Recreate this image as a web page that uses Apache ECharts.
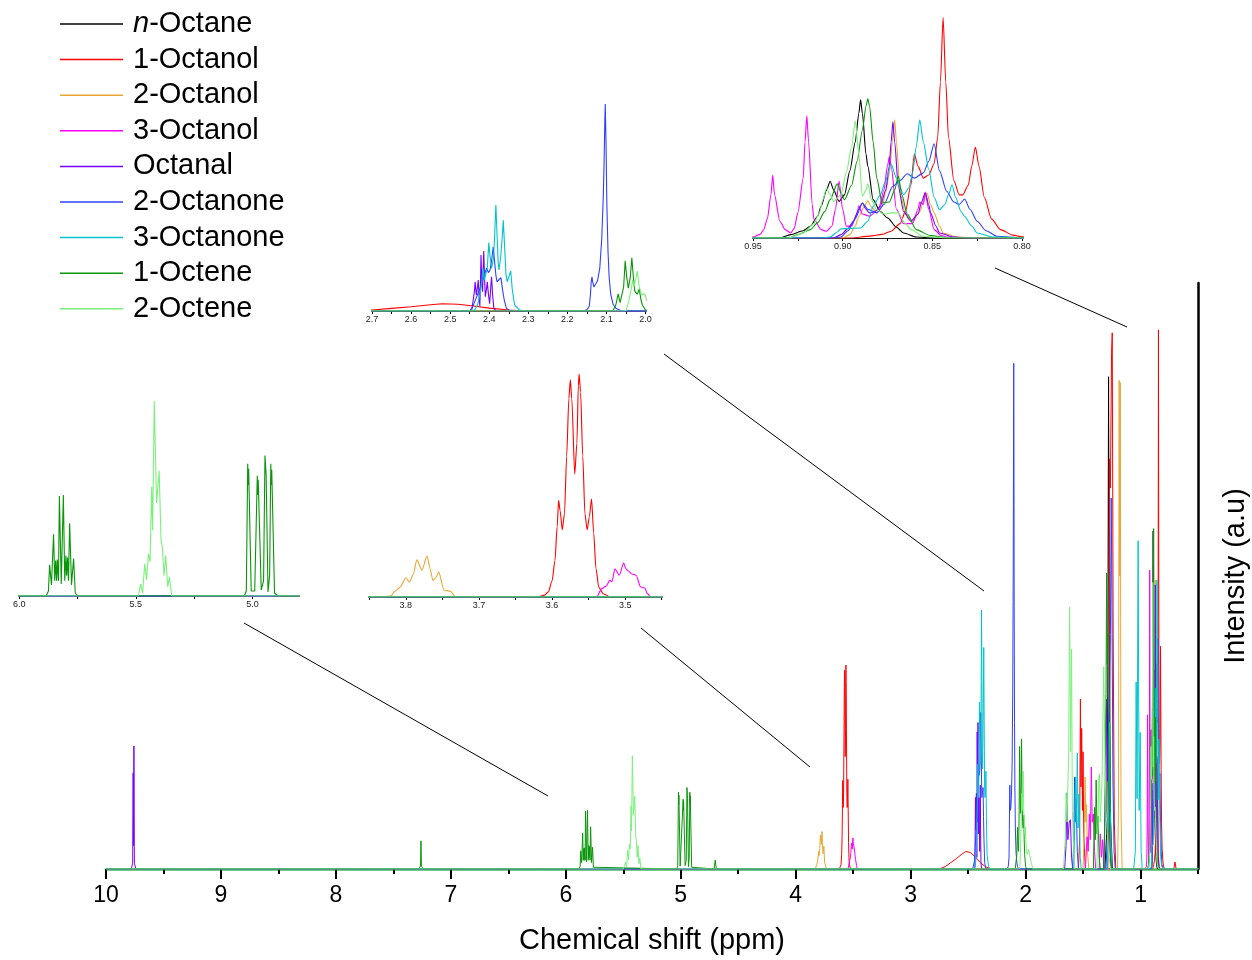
<!DOCTYPE html>
<html>
<head>
<meta charset="utf-8">
<title>1H NMR spectra of C8 compounds</title>
<script src="https://cdn.jsdelivr.net/npm/echarts@6/dist/echarts.min.js"></script>
<style>
  html, body { margin: 0; padding: 0; background: #fff; }
  #chart { width: 1252px; height: 960px; }
</style>
</head>
<body>
<div id="chart"></div>
<script>
// each spectrum: [chemical shift (ppm), intensity (a.u.)]
const nOctane = [
  [10,0],[1.31,0],[1.295,6],[1.285,30],[1.278,84],[1.272,40],[1.26,8],[1.245,0],
  [0.935,0],[0.929,1.4],[0.922,3],[0.918,4.9],[0.914,9],[0.912,13.2],[0.909,20],[0.907,23.7],[0.905,20],[0.902,15.3],[0.899,18],[0.896,28],[0.893,40],[0.891,52],[0.890,57.7],[0.889,52],[0.887,35],[0.886,30],[0.883,16],[0.879,11],[0.875,8.4],[0.870,4.5],[0.866,2.1],[0.859,0.4],[0.85,0],[0.5,0]
];
const octanol1 = [
  [10,0],
  [3.62,0],[3.61,0.3],[3.605,0.8],[3.600,2.5],[3.596,5.7],[3.593,11],[3.591,15.1],[3.589,13.5],[3.586,10.5],[3.583,13],[3.580,22],[3.577,31],[3.575,33.9],[3.573,31],[3.569,19.2],[3.566,24],[3.564,33],[3.563,34.8],[3.561,32],[3.558,22],[3.555,13],[3.552,10.5],[3.549,12.5],[3.546,15.3],[3.543,10],[3.540,4.5],[3.536,1.5],[3.530,0.5],[3.52,0],
  [2.75,0],[2.70,0.4],[2.65,1.1],[2.60,1.8],[2.55,2.6],[2.52,3.0],[2.48,2.8],[2.44,2.1],[2.40,1.2],[2.35,0.4],[2.30,0],
  [1.54,0],[1.53,5],[1.523,29],[1.518,14],[1.512,24],[1.505,10],[1.50,20],[1.494,6],[1.48,0],
  [1.285,0],[1.275,10],[1.27,70],[1.262,65],[1.252,88],[1.246,91.5],[1.238,40],[1.228,8],[1.215,0],
  [0.895,0],[0.885,0.8],[0.878,1.5],[0.873,2.8],[0.868,6],[0.865,11],[0.862,22],[0.860,35],[0.858,30],[0.855,25],[0.852,26.3],[0.849,31],[0.847,42],[0.8455,65],[0.844,92],[0.8425,65],[0.841,42],[0.838,24],[0.835,18],[0.833,18],[0.830,22],[0.828,30],[0.826,38],[0.824,30],[0.821,17],[0.817,8],[0.812,3.5],[0.805,1.2],[0.80,0.5],[0.79,0],
  [0.71,0],[0.70,1.2],[0.69,0],[0.5,0]
];
const octanol2 = [
  [10,0],
  [3.83,0],[3.82,0.2],[3.816,0.8],[3.808,1.5],[3.80,3.0],[3.795,2.3],[3.790,3.5],[3.785,5.8],[3.778,4.2],[3.771,6.4],[3.767,4.5],[3.763,2.6],[3.759,3],[3.755,3.9],[3.748,1.1],[3.739,0.9],[3.732,0],
  [1.50,0],[1.49,6],[1.482,15.7],[1.476,8],[1.47,11],[1.462,3],[1.45,0],
  [1.20,0],[1.192,10],[1.186,83.4],[1.181,50],[1.176,83],[1.170,10],[1.16,0],
  [0.90,0],[0.896,1.4],[0.893,5],[0.891,9],[0.888,13],[0.886,15.5],[0.884,13],[0.881,10.5],[0.878,13],[0.876,19],[0.874,27],[0.872,42],[0.871,49.3],[0.870,40],[0.868,18.8],[0.865,10],[0.861,7],[0.857,11],[0.855,15],[0.853,18.8],[0.851,14],[0.849,10.5],[0.846,5],[0.844,2.1],[0.836,0.4],[0.825,0],[0.5,0]
];
const octanol3 = [
  [10,0],
  [3.545,0],[3.539,0],[3.532,1.3],[3.526,1.7],[3.521,2.6],[3.518,2.4],[3.514,4.4],[3.508,3.4],[3.502,5.3],[3.499,4.4],[3.496,4.1],[3.491,3.6],[3.485,3.4],[3.479,1.6],[3.473,1.4],[3.470,0.6],[3.465,0],
  [1.48,0],[1.465,5.5],[1.455,3],[1.445,9.4],[1.437,5],[1.428,17.4],[1.42,8],[1.41,9.4],[1.40,3],[1.39,0],
  [1.36,0],[1.35,6],[1.34,2],[1.33,5],[1.32,0],
  [0.96,0],[0.95,0.4],[0.946,1.5],[0.944,3.5],[0.942,8],[0.940,18],[0.939,26.3],[0.938,18],[0.935,7],[0.932,3.5],[0.929,2.1],[0.927,4],[0.925,10.5],[0.922,25],[0.921,40],[0.920,51],[0.919,40],[0.917,14],[0.916,7.7],[0.912,3.5],[0.909,2.8],[0.906,5],[0.904,12],[0.902,23.8],[0.900,12],[0.898,4.9],[0.895,5],[0.892,10],[0.891,13.4],[0.889,10],[0.885,9.1],[0.880,12],[0.877,20],[0.875,30],[0.874,33.9],[0.873,30],[0.870,12],[0.866,6],[0.861,6],[0.858,12],[0.857,15],[0.855,14],[0.854,19.2],[0.852,12],[0.849,3.5],[0.845,1],[0.842,0.4],[0.83,0],[0.5,0]
];
const octanal = [
  [10,0],[9.78,0],[9.768,1],[9.764,16.4],[9.761,4],[9.757,21],[9.753,1],[9.74,0],
  [2.445,0],[2.441,0.5],[2.438,8],[2.436,12.2],[2.433,6.7],[2.430,10],[2.428,12.9],[2.426,6],[2.424,2],[2.422,15],[2.421,23.4],[2.419,12],[2.417,8],[2.415,20],[2.414,25],[2.412,14],[2.410,6],[2.407,9],[2.405,12.2],[2.402,7],[2.399,3],[2.396,10],[2.394,14.3],[2.391,6],[2.388,1],[2.382,0],
  [1.66,0],[1.648,4],[1.64,13],[1.632,5],[1.62,8],[1.61,8.4],[1.60,2],[1.59,0],
  [1.32,0],[1.31,8],[1.30,20],[1.295,29],[1.288,15],[1.28,26.4],[1.27,8],[1.26,0],
  [0.905,0],[0.901,1.4],[0.897,4],[0.894,7],[0.891,12],[0.889,14.6],[0.887,12],[0.885,10.5],[0.882,11],[0.879,13.2],[0.876,20],[0.874,30],[0.873,40],[0.872,48.5],[0.871,40],[0.869,21.6],[0.866,11],[0.862,7],[0.858,10],[0.856,15],[0.854,18.8],[0.852,14],[0.851,10.5],[0.848,5],[0.846,2.1],[0.838,0.4],[0.83,0],[0.5,0]
];
const octanone2 = [
  [10,0],
  [2.46,0],[2.450,0],[2.443,1.5],[2.437,3.9],[2.432,6],[2.427,8.1],[2.420,11],[2.414,14],[2.407,17.9],[2.402,16],[2.398,17],[2.393,22],[2.390,26.7],[2.387,22],[2.383,15],[2.380,12.2],[2.375,12],[2.370,13.9],[2.366,9],[2.362,5],[2.356,1.1],[2.345,0],
  [2.16,0],[2.150,0.5],[2.144,2],[2.141,6.7],[2.139,12],[2.137,14.3],[2.135,12],[2.132,10],[2.128,10.5],[2.123,12.5],[2.117,17.9],[2.112,30],[2.108,48],[2.106,62],[2.104,80],[2.103,86.3],[2.101,70],[2.099,45],[2.096,25],[2.093,14],[2.089,7],[2.083,2.8],[2.075,1],[2.07,0.4],[2.06,0],
  [1.59,0],[1.58,5],[1.574,15.7],[1.567,8],[1.56,12],[1.55,3],[1.54,0],
  [1.30,0],[1.28,10],[1.27,25],[1.262,40],[1.255,63.3],[1.25,50],[1.24,15],[1.23,3],[1.22,0],
  [0.905,0],[0.901,0.4],[0.897,3],[0.893,8],[0.889,14.6],[0.886,12],[0.881,10.5],[0.877,14],[0.872,21.6],[0.868,24],[0.864,26.8],[0.860,25],[0.855,27.2],[0.852,32],[0.849,39.3],[0.846,28],[0.842,19.5],[0.838,15],[0.835,14],[0.832,16.3],[0.829,12],[0.825,7],[0.820,3],[0.814,0.7],[0.80,0],[0.5,0]
];
const octanone3 = [
  [10,0],
  [2.445,0],[2.437,0.5],[2.430,2.5],[2.424,6.7],[2.419,12],[2.416,17.9],[2.412,13],[2.409,12.2],[2.405,18],[2.401,28.5],[2.398,23],[2.394,17.8],[2.389,22],[2.386,32],[2.383,44.2],[2.380,32],[2.377,20],[2.375,17.1],[2.371,22],[2.367,30],[2.364,37.8],[2.361,28],[2.357,15],[2.354,12.2],[2.350,13],[2.345,16.7],[2.341,9],[2.335,2.5],[2.322,0.4],[2.305,0],
  [1.58,0],[1.565,15.7],[1.558,8],[1.55,19.8],[1.543,7],[1.535,12.8],[1.525,2],[1.515,0],
  [1.29,0],[1.275,12],[1.27,25],[1.263,10],[1.25,0],
  [1.06,0],[1.045,3],[1.038,31.9],[1.030,12],[1.021,56],[1.012,10],[1.003,23.3],[0.995,3],[0.985,0],
  [0.912,0],[0.907,0.4],[0.903,2.5],[0.901,3.8],[0.897,4],[0.890,4.2],[0.886,7],[0.883,13.2],[0.879,18],[0.876,24],[0.873,30.9],[0.870,25],[0.866,18.1],[0.863,21],[0.861,27.2],[0.859,38],[0.857,49.3],[0.855,40],[0.852,28.6],[0.849,17],[0.846,11.8],[0.843,14],[0.841,18],[0.839,22.2],[0.837,17],[0.834,11],[0.832,9],[0.828,5],[0.825,2.1],[0.816,0.4],[0.80,0],[0.5,0]
];
const octene1 = [
  [10,0],[7.28,0],[7.264,0.5],[7.26,4.8],[7.256,0.5],[7.24,0],
  [5.885,0],[5.875,0.5],[5.870,3.1],[5.862,1.1],[5.853,6.1],[5.848,1.5],[5.844,3.5],[5.840,1.5],[5.837,3.6],[5.832,1.5],[5.828,9.9],[5.820,1.2],[5.811,10.0],[5.805,1.5],[5.800,4.0],[5.797,2],[5.793,3.8],[5.789,1.5],[5.784,7.2],[5.776,1.1],[5.767,3.7],[5.760,0.3],[5.75,0],
  [5.035,0],[5.026,0.5],[5.020,13.1],[5.018,11],[5.016,12.6],[5.005,0.5],[4.990,0.5],[4.979,11.9],[4.977,10],[4.975,11.5],[4.962,0.6],[4.952,1.5],[4.946,13.9],[4.941,12],[4.933,0.4],[4.926,2],[4.921,13.1],[4.919,11],[4.917,12.5],[4.905,0.3],[4.89,0],
  [4.71,0],[4.70,1.5],[4.69,0],
  [2.09,0],[2.083,0.3],[2.076,2.5],[2.070,7.1],[2.065,3.5],[2.061,3],[2.056,10],[2.052,20.9],[2.048,14],[2.044,9.5],[2.039,14],[2.035,22.2],[2.031,14],[2.027,8.1],[2.021,7],[2.016,9.2],[2.012,5],[2.008,2.5],[2.0,0.4],[1.99,0],
  [1.41,0],[1.40,10.5],[1.393,5],[1.386,15.2],[1.378,6],[1.37,9],[1.36,2],[1.35,0],
  [1.32,0],[1.31,10],[1.30,30],[1.295,50.5],[1.29,35],[1.285,40],[1.275,15],[1.265,3],[1.25,0],
  [0.93,0],[0.925,1.4],[0.918,3.5],[0.914,6.3],[0.910,11],[0.907,16],[0.903,22.6],[0.901,19],[0.899,16],[0.895,22],[0.892,32],[0.889,45],[0.887,55],[0.886,58.1],[0.885,55],[0.883,40],[0.881,25],[0.878,14.6],[0.874,15],[0.871,20],[0.869,25.9],[0.867,18],[0.864,10],[0.859,3.5],[0.851,1],[0.84,0],[0.5,0]
];
const octene2 = [
  [10,0],
  [5.50,0],[5.490,0],[5.479,1.2],[5.471,0.3],[5.462,3.2],[5.454,1.6],[5.446,4.2],[5.439,3.4],[5.432,10.8],[5.428,6.5],[5.421,19.3],[5.411,9.2],[5.400,12.4],[5.392,5.6],[5.386,4.8],[5.379,2.0],[5.372,4.0],[5.363,0.9],[5.356,1.9],[5.346,0],
  [2.055,0],[2.049,0.4],[2.043,4],[2.038,8],[2.033,12.9],[2.030,10],[2.027,10.8],[2.024,14],[2.021,16.7],[2.016,10],[2.010,6.7],[2.006,6],[2.002,7.2],[1.998,5],[1.993,3],[1.985,2.5],[1.975,3.4],[1.965,2.5],[1.95,1],[1.935,0],
  [1.67,0],[1.655,5],[1.647,13],[1.64,8],[1.625,20],[1.617,44.7],[1.608,20],[1.600,37.5],[1.593,10],[1.585,5],[1.575,0],
  [1.38,0],[1.37,8],[1.363,15.8],[1.357,16.2],[1.35,8],[1.335,15],[1.32,34.5],[1.31,20],[1.30,10],[1.28,3],[1.26,0],
  [0.93,0],[0.922,2.1],[0.916,6],[0.913,10.5],[0.911,16],[0.909,20.9],[0.907,18],[0.905,15.3],[0.901,18],[0.898,27.2],[0.895,38],[0.893,48.9],[0.891,35],[0.889,17.4],[0.887,20],[0.886,22.6],[0.884,16],[0.881,11.8],[0.877,10],[0.873,10.5],[0.869,10.5],[0.865,6],[0.862,3.5],[0.855,0.7],[0.84,0],[0.5,0]
];

const compounds = ['n-Octane', '1-Octanol', '2-Octanol', '3-Octanol', 'Octanal', '2-Octanone', '3-Octanone', '1-Octene', '2-Octene'];
const spectra = [nOctane, octanol1, octanol2, octanol3, octanal, octanone2, octanone3, octene1, octene2];
const colors = ['#000000', '#ff0000', '#e8a735', '#ff00ff', '#7a00ff', '#3040ff', '#00c4cc', '#0a960a', '#7cf07c'];

// tick positions and labels
const mainLabels = [1, 2, 3, 4, 5, 6, 7, 8, 9, 10];
const mainMinor = [0.5, 1.5, 2.5, 3.5, 4.5, 5.5, 6.5, 7.5, 8.5, 9.5];
const insetATicks = [0.8, 0.825, 0.85, 0.875, 0.9, 0.925, 0.95];
const insetALabels = [0.8, 0.85, 0.9, 0.95];
const insetBTicks = [2.0, 2.05, 2.1, 2.15, 2.2, 2.25, 2.3, 2.35, 2.4, 2.45, 2.5, 2.55, 2.6, 2.65, 2.7];
const insetBLabels = [2.0, 2.1, 2.2, 2.3, 2.4, 2.5, 2.6, 2.7];
const insetCTicks = [5.0, 5.25, 5.5, 5.75, 6.0];
const insetCLabels = [5.0, 5.5, 6.0];
const insetDTicks = [3.45, 3.5, 3.55, 3.6, 3.65, 3.7, 3.75, 3.8, 3.85];
const insetDLabels = [3.5, 3.6, 3.7, 3.8];

const FONT = '"Liberation Sans", Arial, sans-serif';

const insetAxis = (gridIndex, min, max, ticks, labels, digits) => ({
    gridIndex, type: 'value', inverse: true, min, max, position: 'bottom',
    axisLine: { lineStyle: { color: '#1a1a1a', width: 1 } },
    axisTick: { customValues: ticks, length: 3, lineStyle: { color: '#000', width: 1 } },
    axisLabel: { customValues: labels, formatter: v => v.toFixed(digits), fontSize: 9, color: '#222', margin: 4, fontFamily: FONT },
    splitLine: { show: false }
});
const hiddenY = (gridIndex, max) => ({
    gridIndex, type: 'value', min: 0, max, show: false, splitLine: { show: false }
});

const chart = echarts.init(document.getElementById('chart'));

// main plot + 4 zoomed insets: [xAxisIndex, yAxisIndex]
const views = [[0, 0], [2, 1], [3, 2], [4, 3], [5, 4]];
const series = [];
views.forEach(([xi, yi], v) => {
    compounds.forEach((name, i) => {
        series.push({
            name, type: 'line', xAxisIndex: xi, yAxisIndex: yi,
            data: spectra[i], symbol: 'none', showSymbol: false, clip: true, silent: true,
            // insets are zoomed far enough that the peaks read as curves
            smooth: v === 1 || v === 4 ? 0.25 : false,
            smoothMonotone: 'x',
            lineStyle: { color: colors[i], width: v === 0 ? 1 : 1.1 },
            itemStyle: { color: colors[i] }
        });
    });
});

const option = {
    animation: false,
    backgroundColor: '#fff',
    textStyle: { fontFamily: FONT },
    legend: {
        data: compounds, orient: 'vertical', left: 60, top: 9, padding: 0,
        icon: 'rect', itemWidth: 63, itemHeight: 1.5, itemGap: 5.6,
        selectedMode: false,
        formatter: name => name === 'n-Octane' ? '{i|n}-Octane' : name,
        textStyle: {
            fontSize: 29, lineHeight: 30, color: '#000', fontFamily: FONT, padding: [0, 0, 0, 5],
            rich: { i: { fontSize: 29, fontStyle: 'italic', fontFamily: FONT, color: '#000' } }
        }
    },
    grid: [
        { left: 106, width: 1092, top: 283, height: 586, outerBoundsMode: 'none' },
        { left: 753, top: 8, width: 269, height: 230, outerBoundsMode: 'none' },
        { left: 372, top: 100, width: 273.5, height: 211, outerBoundsMode: 'none' },
        { left: 19.3, top: 396, width: 279.7, height: 200, outerBoundsMode: 'none' },
        { left: 369.3, top: 369, width: 292.4, height: 228, outerBoundsMode: 'none' }
    ],
    xAxis: [
        {
            gridIndex: 0, type: 'value', inverse: true, min: 0.5, max: 10, position: 'bottom',
            name: 'Chemical shift (ppm)', nameLocation: 'middle', nameGap: 57,
            nameTextStyle: { fontSize: 29, color: '#000', fontFamily: FONT },
            axisLine: { lineStyle: { color: '#45c060', width: 2.5 } },
            axisTick: { customValues: mainLabels, length: 10, lineStyle: { color: '#000', width: 2 } },
            axisLabel: { customValues: mainLabels, fontSize: 23, color: '#000', margin: 15, fontFamily: FONT },
            splitLine: { show: false }
        },
        {
            gridIndex: 0, type: 'value', inverse: true, min: 0.5, max: 10, position: 'bottom',
            axisLine: { show: false },
            axisTick: { customValues: mainMinor, length: 5, lineStyle: { color: '#000', width: 2 } },
            axisLabel: { show: false },
            splitLine: { show: false }
        },
        insetAxis(1, 0.8, 0.95, insetATicks, insetALabels, 2),
        insetAxis(2, 2.0, 2.7, insetBTicks, insetBLabels, 1),
        insetAxis(3, 4.8, 6.0, insetCTicks, insetCLabels, 1),
        insetAxis(4, 3.45, 3.85, insetDTicks, insetDLabels, 1)
    ],
    yAxis: [
        {
            gridIndex: 0, type: 'value', min: 0, max: 100, position: 'right',
            name: 'Intensity (a.u)', nameLocation: 'middle', nameGap: 23,
            nameTextStyle: { fontSize: 29, color: '#000', fontFamily: FONT },
            axisLine: { show: true, lineStyle: { color: '#000', width: 2.5 } },
            axisTick: { show: false }, axisLabel: { show: false }, splitLine: { show: false }
        },
        hiddenY(1, 96),
        hiddenY(2, 88),
        hiddenY(3, 19.8),
        hiddenY(4, 35.6)
    ],
    // lines joining each inset to its region of the full spectrum
    graphic: [
        { type: 'line', silent: true, shape: { x1: 995, y1: 268, x2: 1127, y2: 327 }, style: { stroke: '#000', lineWidth: 1 } },
        { type: 'line', silent: true, shape: { x1: 664, y1: 354, x2: 984, y2: 591 }, style: { stroke: '#000', lineWidth: 1 } },
        { type: 'line', silent: true, shape: { x1: 244, y1: 623, x2: 548, y2: 796 }, style: { stroke: '#000', lineWidth: 1 } },
        { type: 'line', silent: true, shape: { x1: 641, y1: 628, x2: 810, y2: 767 }, style: { stroke: '#000', lineWidth: 1 } }
    ],
    series
};

chart.setOption(option);
</script>
</body>
</html>
